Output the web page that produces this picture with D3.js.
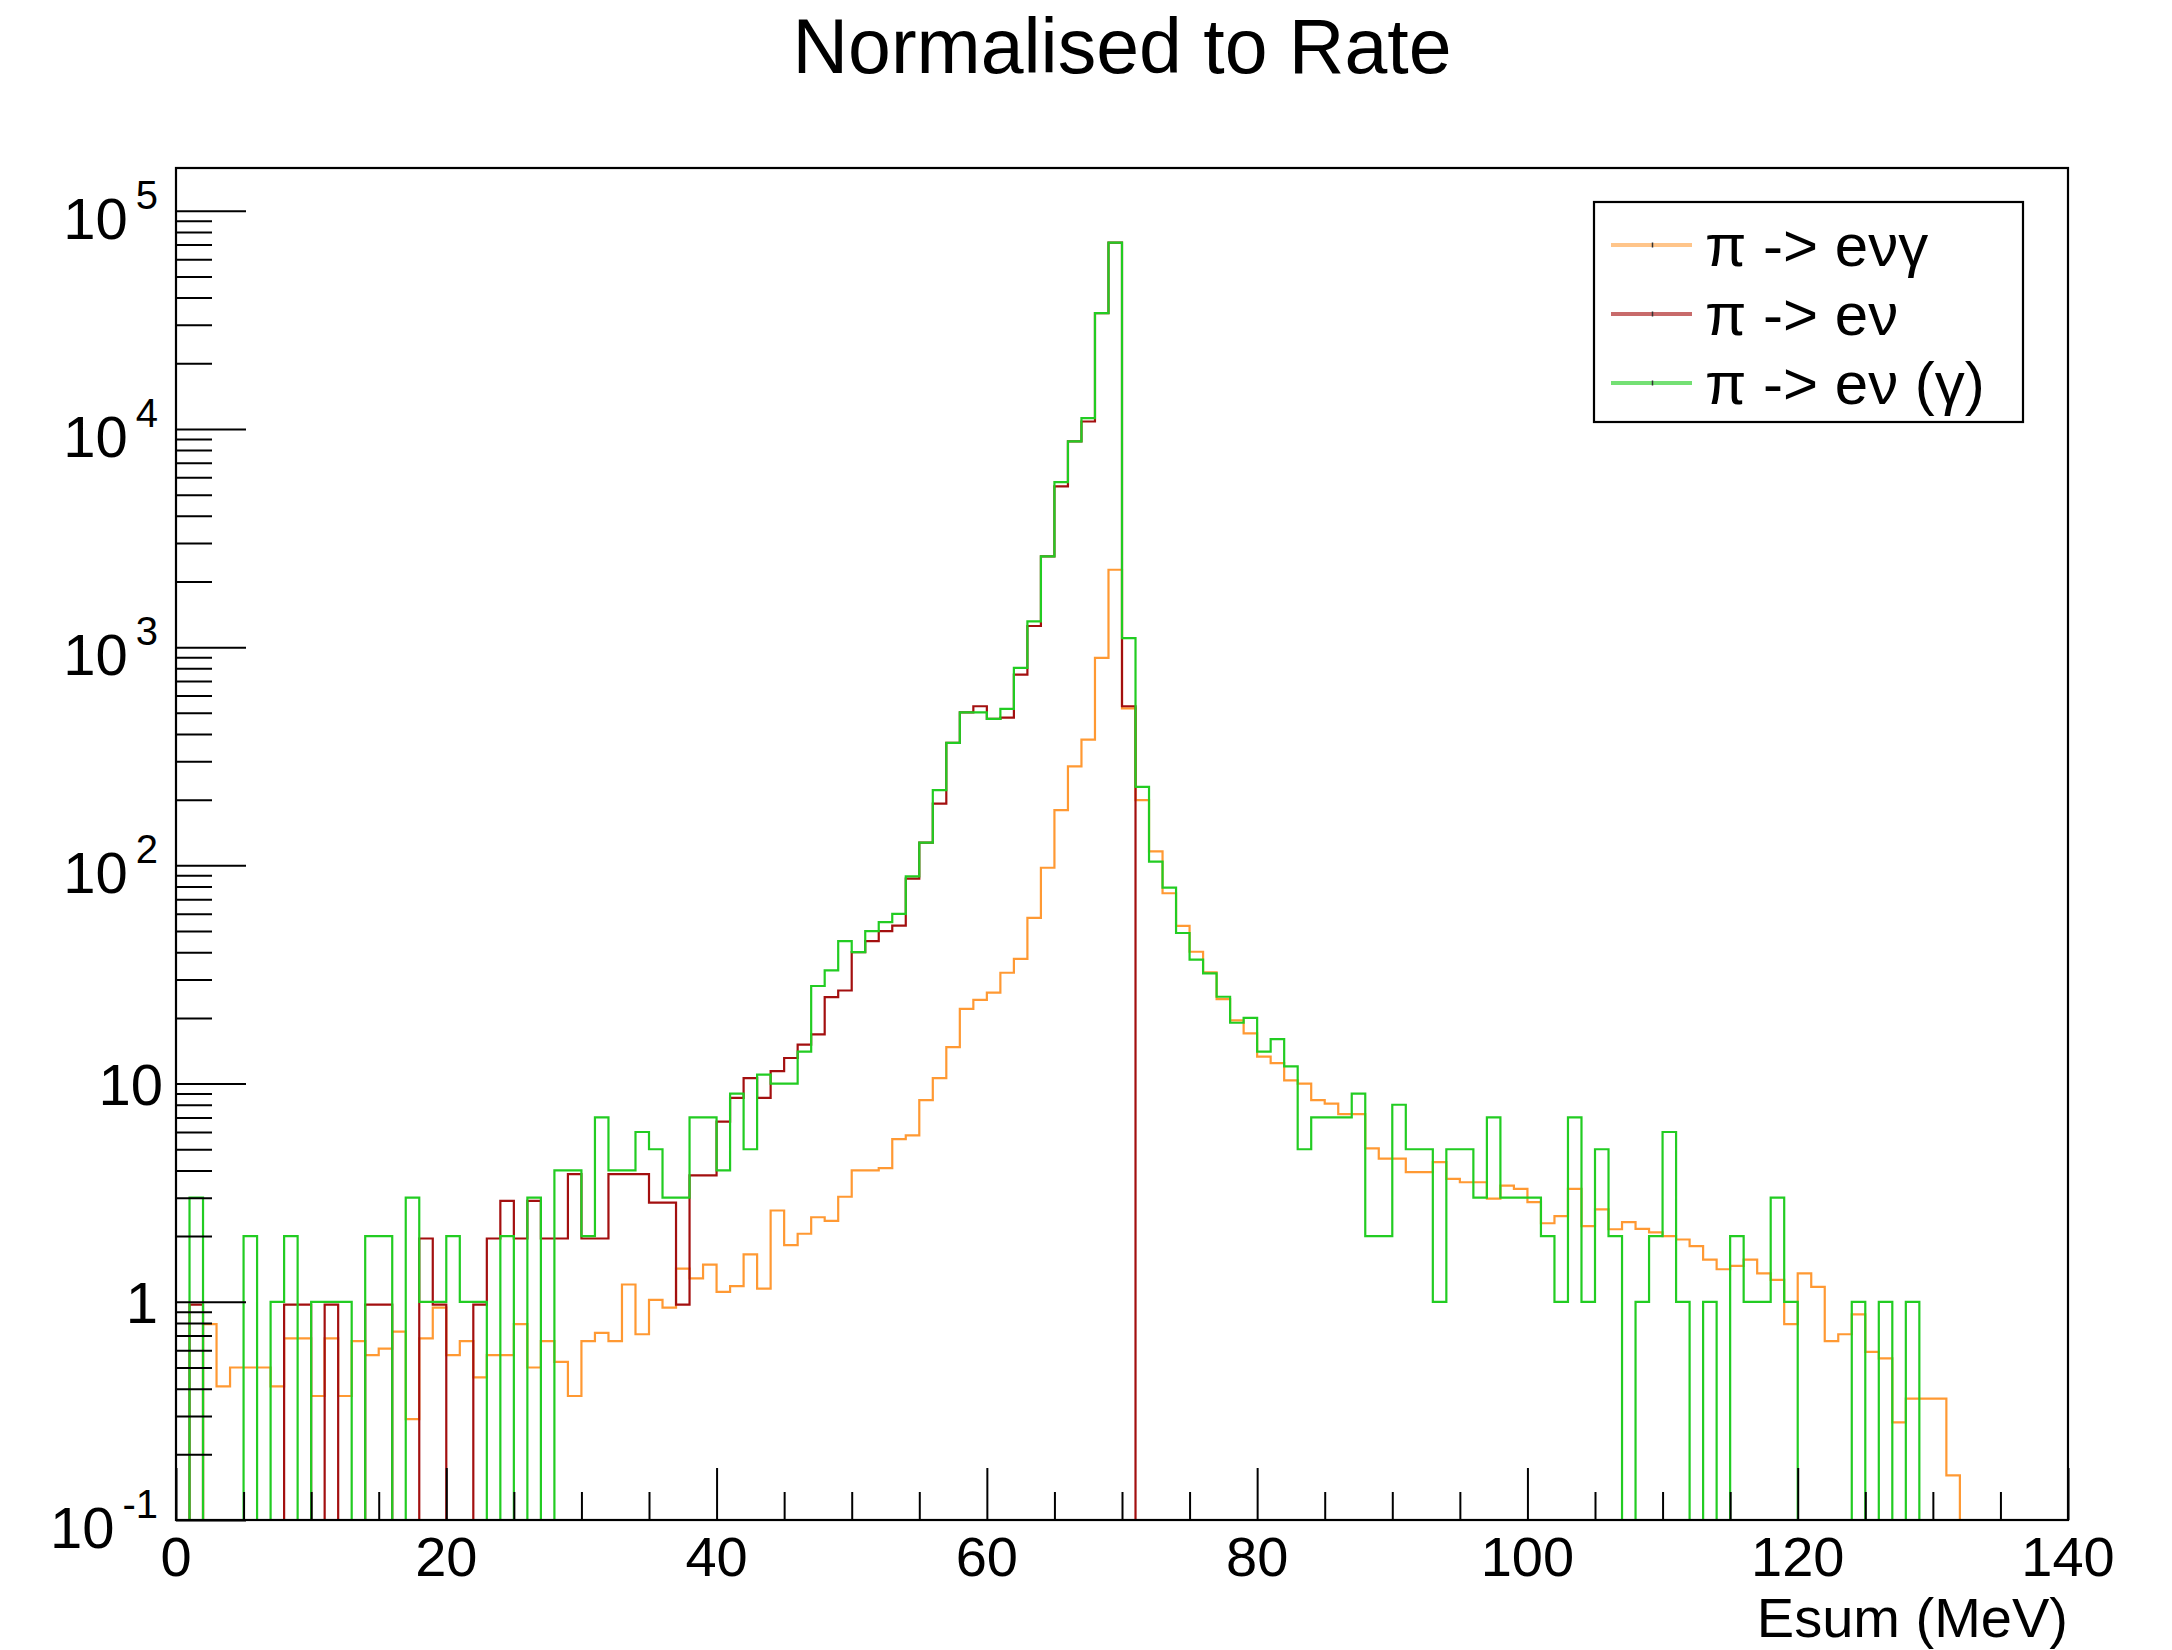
<!DOCTYPE html>
<html><head><meta charset="utf-8">
<script src="https://cdn.jsdelivr.net/npm/d3@7"></script>
<style>
body{margin:0;background:#fff}
text{font-family:"Liberation Sans",Arial,Helvetica,sans-serif;fill:#000}
</style>
</head><body>
<svg id="c" width="2172" height="1650"></svg>
<script>
// ---- DATA (1 MeV bins, 0..140 MeV) ----
const binLow = d3.range(0, 140);
const evGammaVals = [0,0,0.79,0.41,0.5,0.5,0.5,0.41,0.68,0.68,
 0.37,0.68,0.37,0.66,0.57,0.61,0.73,0.29,0.68,0.94,
 0.57,0.66,0.45,0.57,0.57,0.79,0.5,0.66,0.53,0.37,
 0.66,0.72,0.66,1.2,0.71,1.02,0.94,1.42,1.28,1.48,
 1.11,1.18,1.65,1.15,2.62,1.82,2.05,2.44,2.35,3.03,
 4.0,4.0,4.1,5.57,5.79,8.4,10.6,14.7,22,24.2,
 26.1,32.2,37.3,57.5,97.5,179,284,377,893,2264,
 524,199,116,74.5,52.8,40.2,32.3,24.4,19.5,17,
 13.3,12.4,10.35,10.0,8.4,8.1,7.25,7.25,5.05,4.53,
 4.53,3.93,3.93,4.37,3.66,3.53,3.53,2.97,3.41,3.29,
 2.86,2.29,2.47,3.29,2.22,2.65,2.15,2.32,2.16,2.08,
 2.0,1.93,1.80,1.56,1.41,1.46,1.56,1.35,1.26,0.79,
 1.35,1.17,0.66,0.71,0.875,0.59,0.55,0.28,0.36,0.36,
 0.36,0.16,0,0,0,0,0,0,0,0];
const evVals = [0,0.97,0,0,0,0,0,0,0.97,0.97,
 0,0.97,0,0,0.97,0.97,0,0,1.95,0.97,
 0,0,0.97,1.95,2.9,1.95,2.9,1.95,1.95,3.85,
 1.95,1.95,3.85,3.85,3.85,2.85,2.85,0.97,3.8,3.8,
 6.7,8.6,10.6,8.6,11.4,13.1,15.1,16.8,24.9,26.7,
 40,45,50,53,87,127,192,364,502,536,
 469,475,748,1250,2605,5460,8770,10820,33960,71500,
 536,0,0,0,0,0,0,0,0,0,
 0,0,0,0,0,0,0,0,0,0,
 0,0,0,0,0,0,0,0,0,0,
 0,0,0,0,0,0,0,0,0,0,
 0,0,0,0,0,0,0,0,0,0,
 0,0,0,0,0,0,0,0,0,0,
 0,0,0,0,0,0,0,0,0,0];
const evPhotVals = [0,3,0,0,0,2,0,1,2,0,
 1,1,1,0,2,2,0,3,1,1,
 2,1,1,0,2,0,3,0,4,4,
 2,7,4,4,6,5,3,3,7,7,
 4,9,5,11,10,10,14,28,33,45,
 40,50,55,60,89,127,221,364,502,502,
 469,521,803,1313,2605,5710,8770,11200,33960,71500,
 1100,229,104,79,49,37,32,25,19,20,
 14,16,12,5,7,7,7,9,2,2,
 8,5,5,1,5,5,3,7,3,3,
 3,2,1,7,1,5,2,0,1,2,
 6,1,0,1,0,2,1,1,3,1,
 0,0,0,0,1,0,1,0,1,0,
 0,0,0,0,0,0,0,0,0,0];

const seriesNames = ["\u03c0 -> e\u03bd\u03b3", "\u03c0 -> e\u03bd", "\u03c0 -> e\u03bd (\u03b3)"];
const xTickMajor = [0,20,40,60,80,100,120,140];
const xTickLabels = ["0","20","40","60","80","100","120","140"];
const yDecades = [0.1,1,10,100,1000,10000,100000];
const yLabelBase = ["10","1","10","10","10","10","10"];
const yLabelExp  = ["-1","","","2","3","4","5"];

// ---- LAYOUT ----
const L=176, R=2068, T=168, B=1520;
const svg = d3.select("#c");
const x = d3.scaleLinear().domain([0,140]).range([L,R]);
const y = d3.scaleLog().domain([0.1,1.57e5]).range([B,T]);

svg.append("defs").append("clipPath").attr("id","fr")
  .append("rect").attr("x",L).attr("y",T).attr("width",R-L).attr("height",B-T);

const colors = ["#ff9933","#a30f0f","#22cc22"];
const legendColors = ["#ffc58a","#c86b6b","#74e074"];
const allSeries = [evGammaVals, evVals, evPhotVals];

function yv(v){ return v>0 ? y(v) : B+20; }
const line = d3.line().curve(d3.curveStepAfter).x(d=>d[0]).y(d=>d[1]);

const g = svg.append("g").attr("clip-path","url(#fr)");
allSeries.forEach((vals,si)=>{
  const pts = [[x(0), B+20]];
  binLow.forEach((b,i)=>pts.push([x(b), yv(vals[i])]));
  pts.push([x(140), yv(vals[139])]);
  pts.push([x(140), B+20]);
  g.append("path").attr("d", line(pts)).attr("fill","none")
    .attr("stroke", colors[si]).attr("stroke-width",2.2);
});

// ---- AXES ----
const yMinor = [];
yDecades.forEach(d=>{ for(let k=2;k<=9;k++){ const v=k*d; if(v<1.57e5) yMinor.push(v);} });
svg.append("g").attr("transform",`translate(${L},0)`)
  .call(d3.axisLeft(y).tickValues(yMinor).tickSize(-36).tickFormat(""))
  .call(s=>{s.select(".domain").remove(); s.selectAll("line").attr("stroke","#000").attr("stroke-width",2);});
svg.append("g").attr("transform",`translate(${L},0)`)
  .call(d3.axisLeft(y).tickValues(yDecades).tickSize(-70).tickFormat(""))
  .call(s=>{s.select(".domain").remove(); s.selectAll("line").attr("stroke","#000").attr("stroke-width",2);});

yDecades.forEach((d,i)=>{
  const ty = y(d);
  if(yLabelExp[i]===""){
    svg.append("text").attr("x", yLabelBase[i]==="1"?158:163).attr("y",ty+21)
      .attr("text-anchor","end").attr("font-size",58).text(yLabelBase[i]);
  } else {
    const t = svg.append("text").attr("x",158).attr("y",ty+28).attr("text-anchor","end").attr("font-size",58);
    t.append("tspan").text(yLabelBase[i]);
    t.append("tspan").attr("font-size",40).attr("dx",8).attr("dy",-30).text(yLabelExp[i]);
  }
});

const xMinor = d3.range(0,141,5).filter(v=>v%20!==0);
svg.append("g").attr("transform",`translate(0,${B})`)
  .call(d3.axisBottom(x).tickValues(xMinor).tickSize(-28).tickFormat(""))
  .call(s=>{s.select(".domain").remove(); s.selectAll("line").attr("stroke","#000").attr("stroke-width",2);});
svg.append("g").attr("transform",`translate(0,${B})`)
  .call(d3.axisBottom(x).tickValues(xTickMajor).tickSize(-52).tickFormat(""))
  .call(s=>{s.select(".domain").remove(); s.selectAll("line").attr("stroke","#000").attr("stroke-width",2);});
xTickMajor.forEach((v,i)=>{
  svg.append("text").attr("x",x(v)).attr("y",1576).attr("text-anchor","middle")
    .attr("font-size",56).text(xTickLabels[i]);
});

// frame
svg.append("rect").attr("x",L).attr("y",T).attr("width",R-L).attr("height",B-T)
  .attr("fill","none").attr("stroke","#000").attr("stroke-width",2.2);

// titles
svg.append("text").attr("x",(L+R)/2).attr("y",73).attr("text-anchor","middle")
  .attr("font-size",77).text("Normalised to Rate");
svg.append("text").attr("x",R).attr("y",1637).attr("text-anchor","end")
  .attr("font-size",56).text("Esum (MeV)");

// legend
const lg = svg.append("g");
lg.append("rect").attr("x",1594).attr("y",202).attr("width",429).attr("height",220)
  .attr("fill","#fff").attr("stroke","#000").attr("stroke-width",2.2);
const rowY = [245,314,383];
seriesNames.forEach((n,i)=>{
  lg.append("line").attr("x1",1611).attr("x2",1692).attr("y1",rowY[i]).attr("y2",rowY[i])
    .attr("stroke",legendColors[i]).attr("stroke-width",4);
  lg.append("line").attr("x1",1652.5).attr("x2",1652.5).attr("y1",rowY[i]-2.5).attr("y2",rowY[i]+2.5)
    .attr("stroke","#333").attr("stroke-width",1.5);
  lg.append("text").attr("x",1705).attr("y",rowY[i]+21).attr("font-size",60).text(n);
});
</script>
</body></html>
